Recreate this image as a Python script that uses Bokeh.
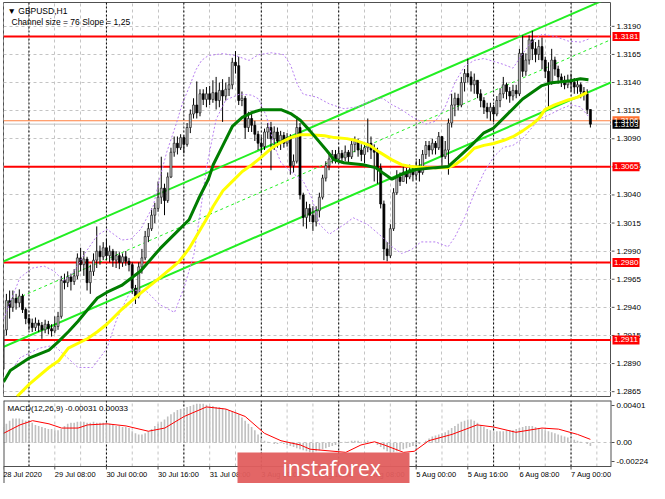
import datetime as dt
from bokeh.plotting import figure
from bokeh.layouts import column, row
from bokeh.models import Range1d, FixedTicker, Span, Label
from bokeh.embed import file_html
from bokeh.resources import INLINE
from bokeh.core.properties import value

# ---------------- data ----------------
symbol_text = "\u25bc GBPUSD,H1"
channel_text = "Channel size = 76 Slope = 1,25"
macd_text = "MACD(12,26,9) -0.00031 0.00033"
watermark = "instaforex"

sessions = [("2020-07-28", 16, 23), ("2020-07-29", 0, 23), ("2020-07-30", 0, 23),
            ("2020-07-31", 0, 23), ("2020-08-03", 0, 23), ("2020-08-04", 0, 23),
            ("2020-08-05", 0, 23), ("2020-08-06", 0, 23), ("2020-08-07", 0, 6)]

first_open = 1.2885
close = [1.2920, 1.2946, 1.2940, 1.2948, 1.2944, 1.2950, 1.2938, 1.2930, 1.2926, 1.2922,
         1.2926, 1.2924, 1.2920, 1.2925, 1.2921, 1.2919, 1.2923, 1.2932, 1.2964, 1.2962,
         1.2967, 1.2963, 1.2968, 1.2984, 1.2978, 1.2983, 1.2962, 1.2972, 1.2982, 1.2990,
         1.2985, 1.2993, 1.2986, 1.2990, 1.2982, 1.2986, 1.2980, 1.2985, 1.2981, 1.2978,
         1.2957, 1.2950, 1.2976, 1.2984, 1.3003, 1.3010, 1.3022, 1.3028, 1.3038, 1.3046,
         1.3035, 1.3056, 1.3078, 1.3086, 1.3082, 1.3091, 1.3085, 1.3100, 1.3112, 1.3120,
         1.3113, 1.3130, 1.3125, 1.3130, 1.3125, 1.3131, 1.3124, 1.3133, 1.3128, 1.3134,
         1.3138, 1.3158, 1.3155, 1.3124, 1.3126, 1.3100, 1.3108, 1.3102, 1.3094, 1.3086,
         1.3083, 1.3096, 1.3100, 1.3090, 1.3096, 1.3088, 1.3093, 1.3086, 1.3091, 1.3066,
         1.3070, 1.3100, 1.3040, 1.3020, 1.3028, 1.3022, 1.3016, 1.3026, 1.3038, 1.3055,
         1.3066, 1.3072, 1.3076, 1.3072, 1.3077, 1.3073, 1.3078, 1.3074, 1.3085, 1.3088,
         1.3080, 1.3076, 1.3082, 1.3086, 1.3080, 1.3078, 1.3064, 1.3032, 1.2992, 1.2986,
         1.3010, 1.3042, 1.3056, 1.3052, 1.3060, 1.3056, 1.3062, 1.3058, 1.3064, 1.3060,
         1.3076, 1.3084, 1.3080, 1.3086, 1.3082, 1.3092, 1.3074, 1.3080, 1.3104, 1.3120,
         1.3126, 1.3120, 1.3140, 1.3148, 1.3145, 1.3138, 1.3142, 1.3130, 1.3124, 1.3118,
         1.3114, 1.3118, 1.3112, 1.3124, 1.3130, 1.3138, 1.3132, 1.3128, 1.3133, 1.3130,
         1.3166, 1.3150, 1.3160, 1.3178, 1.3170, 1.3165, 1.3172, 1.3160, 1.3150, 1.3140,
         1.3160, 1.3152, 1.3145, 1.3142, 1.3138, 1.3142, 1.3140, 1.3136, 1.3138, 1.3132,
         1.3130, 1.3116, 1.3103]
high = [1.2925, 1.2952, 1.2955, 1.2955, 1.2952, 1.2956, 1.2952, 1.2940, 1.2934, 1.2930,
        1.2931, 1.2929, 1.2927, 1.2929, 1.2928, 1.2925, 1.2932, 1.2936, 1.2968, 1.2970,
        1.2972, 1.2970, 1.2974, 1.2988, 1.2993, 1.2990, 1.2985, 1.2978, 1.2988, 1.3012,
        1.2995, 1.2998, 1.3001, 1.2995, 1.2992, 1.2990, 1.2989, 1.2988, 1.2990, 1.2984,
        1.2980, 1.2960, 1.2980, 1.2992, 1.3008, 1.3015, 1.3028, 1.3033, 1.3052, 1.3074,
        1.3050, 1.3060, 1.3082, 1.3092, 1.3092, 1.3094, 1.3093, 1.3104, 1.3116, 1.3126,
        1.3141, 1.3134, 1.3134, 1.3136, 1.3137, 1.3142, 1.3145, 1.3140, 1.3143, 1.3140,
        1.3145, 1.3162, 1.3168, 1.3163, 1.3132, 1.3128, 1.3114, 1.3112, 1.3106, 1.3097,
        1.3092, 1.3099, 1.3104, 1.3105, 1.3101, 1.3100, 1.3097, 1.3096, 1.3095, 1.3094,
        1.3076, 1.3110, 1.3104, 1.3042, 1.3034, 1.3032, 1.3030, 1.3030, 1.3042, 1.3058,
        1.3070, 1.3077, 1.3080, 1.3080, 1.3082, 1.3080, 1.3084, 1.3080, 1.3090, 1.3092,
        1.3090, 1.3085, 1.3086, 1.3108, 1.3092, 1.3085, 1.3082, 1.3068, 1.3035, 1.2998,
        1.3014, 1.3046, 1.3062, 1.3060, 1.3066, 1.3064, 1.3067, 1.3066, 1.3070, 1.3072,
        1.3080, 1.3088, 1.3088, 1.3090, 1.3088, 1.3096, 1.3092, 1.3088, 1.3108, 1.3130,
        1.3131, 1.3130, 1.3145, 1.3152, 1.3161, 1.3150, 1.3148, 1.3142, 1.3134, 1.3127,
        1.3122, 1.3122, 1.3120, 1.3128, 1.3135, 1.3145, 1.3140, 1.3136, 1.3138, 1.3138,
        1.3170, 1.3182, 1.3166, 1.3182, 1.3186, 1.3176, 1.3178, 1.3180, 1.3163, 1.3158,
        1.3170, 1.3163, 1.3155, 1.3148, 1.3146, 1.3147, 1.3148, 1.3144, 1.3142, 1.3140,
        1.3136, 1.3134, 1.3115]
low = [1.2878, 1.2915, 1.2930, 1.2936, 1.2938, 1.2940, 1.2935, 1.2925, 1.2920, 1.2918,
       1.2919, 1.2918, 1.2912, 1.2917, 1.2916, 1.2914, 1.2917, 1.2920, 1.2930, 1.2956,
       1.2958, 1.2955, 1.2960, 1.2965, 1.2972, 1.2968, 1.2955, 1.2952, 1.2968, 1.2975,
       1.2978, 1.2982, 1.2982, 1.2980, 1.2976, 1.2975, 1.2974, 1.2976, 1.2977, 1.2972,
       1.2952, 1.2943, 1.2948, 1.2970, 1.2982, 1.2998, 1.3008, 1.3015, 1.3025, 1.3032,
       1.3022, 1.3033, 1.3055, 1.3074, 1.3076, 1.3080, 1.3077, 1.3083, 1.3095, 1.3108,
       1.3108, 1.3110, 1.3120, 1.3118, 1.3120, 1.3122, 1.3116, 1.3118, 1.3105, 1.3124,
       1.3128, 1.3134, 1.3148, 1.3120, 1.3119, 1.3090, 1.3096, 1.3096, 1.3088, 1.3080,
       1.3077, 1.3080, 1.3090, 1.3062, 1.3080, 1.3082, 1.3080, 1.3082, 1.3083, 1.3058,
       1.3060, 1.3068, 1.3036, 1.3012, 1.3010, 1.3016, 1.3008, 1.3012, 1.3020, 1.3036,
       1.3052, 1.3062, 1.3068, 1.3068, 1.3070, 1.3068, 1.3070, 1.3068, 1.3072, 1.3078,
       1.3074, 1.3070, 1.3068, 1.3078, 1.3072, 1.3052, 1.3050, 1.3028, 1.2982, 1.2981,
       1.2984, 1.3008, 1.3040, 1.3048, 1.3052, 1.3050, 1.3054, 1.3052, 1.3054, 1.3052,
       1.3058, 1.3072, 1.3074, 1.3076, 1.3076, 1.3080, 1.3066, 1.3072, 1.3058, 1.3100,
       1.3110, 1.3115, 1.3118, 1.3132, 1.3140, 1.3132, 1.3130, 1.3126, 1.3118, 1.3112,
       1.3108, 1.3106, 1.3105, 1.3110, 1.3118, 1.3126, 1.3125, 1.3122, 1.3124, 1.3126,
       1.3128, 1.3145, 1.3146, 1.3156, 1.3160, 1.3158, 1.3160, 1.3152, 1.3144, 1.3118,
       1.3138, 1.3146, 1.3139, 1.3136, 1.3134, 1.3135, 1.3132, 1.3130, 1.3130, 1.3126,
       1.3124, 1.3112, 1.3100]

# moving averages: (bar index, price)
ma_green_idx = [0.1, 2.2, 8.2, 14.2, 17.2, 20.2, 23.2, 26.2, 29.2, 32.2, 36.7, 42.6, 48.6, 54.6,
                57.6, 60.6, 63.6, 65.1, 68.1, 71.1, 74.1, 77.1, 80.1, 86.1, 89.1, 92.1, 95.1,
                100.2, 102.6, 105.6, 111.5, 115.4, 117.5, 120.5, 123.5, 128.0, 134.0, 137.9,
                140.9, 145.1, 149.0, 152.0, 155.0, 158.0, 161.0, 164.0, 167.0, 170.0, 173.0,
                176.0, 178.9, 181.4]
ma_green = [1.28736, 1.28839, 1.28951, 1.29020, 1.29097, 1.29183, 1.29277, 1.29381, 1.29484,
            1.29535, 1.29595, 1.29724, 1.29922, 1.30094, 1.30179, 1.30368, 1.30540, 1.30669,
            1.30841, 1.31013, 1.31090, 1.31133, 1.31159, 1.31159, 1.31124, 1.31064, 1.30970,
            1.30798, 1.30712, 1.30686, 1.30669, 1.30643, 1.30600, 1.30540, 1.30583, 1.30626,
            1.30643, 1.30652, 1.30729, 1.30841, 1.30953, 1.30995, 1.31081, 1.31167, 1.31253,
            1.31313, 1.31373, 1.31399, 1.31408, 1.31416, 1.31434, 1.31425]
ma_yellow_idx = [4.3, 8.2, 14.2, 17.2, 20.2, 26.2, 29.2, 32.2, 36.7, 42.6, 48.6, 54.6, 57.6,
                 60.6, 62.7, 65.1, 68.1, 71.1, 74.1, 77.1, 80.1, 83.1, 86.1, 89.1, 92.1, 95.1,
                 99.6, 102.6, 106.5, 109.4, 113.6, 116.6, 120.5, 123.5, 126.5, 131.0, 137.9,
                 140.0, 143.0, 146.0, 149.0, 152.0, 155.0, 158.0, 161.0, 164.0, 166.1, 167.9,
                 170.9, 175.1, 178.1, 181.0]
ma_yellow = [1.28607, 1.28719, 1.28865, 1.28925, 1.29037, 1.29123, 1.29183, 1.29252, 1.29381,
             1.29527, 1.29664, 1.29810, 1.29922, 1.30068, 1.30171, 1.30300, 1.30437, 1.30523,
             1.30609, 1.30669, 1.30738, 1.30815, 1.30867, 1.30910, 1.30935, 1.30935, 1.30927,
             1.30910, 1.30901, 1.30884, 1.30841, 1.30781, 1.30712, 1.30669, 1.30652, 1.30643,
             1.30643, 1.30669, 1.30729, 1.30815, 1.30841, 1.30858, 1.30884, 1.30918, 1.30970,
             1.31030, 1.31081, 1.31159, 1.31202, 1.31245, 1.31270, 1.31313]

band_up_idx = [0.1, 5.2, 9.1, 12.7, 15.7, 18.7, 21.7, 25.3, 29.2, 32.2, 36.7, 39.6, 42.6, 46.5,
               48.6, 50.7, 53.7, 55.5, 57.6, 59.7, 61.5, 63.6, 68.1, 72.0, 76.2, 79.2, 83.1,
               87.0, 89.1, 91.2, 93.0, 97.2, 101.1, 105.6, 110.0, 114.5, 117.5, 120.5, 123.5,
               126.5, 131.0, 134.0, 137.0, 140.0, 143.0, 146.0, 149.0, 152.0, 155.0, 158.0,
               161.0, 164.0, 167.0, 170.9, 175.1, 178.9, 181.4]
band_up = [1.29295, 1.29664, 1.29750, 1.29767, 1.29724, 1.29638, 1.29707, 1.29879, 1.30042,
           1.30094, 1.29999, 1.30008, 1.30094, 1.30300, 1.30557, 1.30781, 1.31038, 1.31210,
           1.31356, 1.31511, 1.31597, 1.31640, 1.31657, 1.31640, 1.31597, 1.31648, 1.31665,
           1.31648, 1.31554, 1.31382, 1.31296, 1.31270, 1.31210, 1.31167, 1.31184, 1.31245,
           1.31262, 1.31202, 1.31159, 1.31099, 1.31030, 1.31056, 1.31184, 1.31399, 1.31545,
           1.31597, 1.31614, 1.31588, 1.31562, 1.31528, 1.31657, 1.31769, 1.31829, 1.31812,
           1.31769, 1.31760, 1.31786]
band_lo_idx = [0.1, 5.2, 11.2, 15.7, 19.3, 23.2, 27.7, 32.2, 35.2, 39.6, 44.1, 48.6, 53.1,
               56.1, 59.1, 61.2, 63.0, 66.0, 69.0, 73.2, 77.1, 79.2, 81.6, 84.0, 86.1, 89.1,
               93.0, 95.7, 98.1, 101.1, 105.6, 108.5, 113.0, 117.5, 120.5, 123.5, 126.5,
               129.5, 134.0, 137.9, 140.0, 143.0, 146.0, 149.0, 152.0, 155.0, 158.0, 161.0,
               166.1, 170.0, 173.0, 176.0, 178.9, 181.4]
band_lo = [1.28736, 1.28951, 1.29037, 1.29063, 1.28968, 1.28865, 1.28865, 1.29037, 1.29295,
           1.29552, 1.29552, 1.29423, 1.29355, 1.29578, 1.29870, 1.30265, 1.30643, 1.31073,
           1.31245, 1.31296, 1.31288, 1.31253, 1.31099, 1.30841, 1.30686, 1.30609, 1.30523,
           1.30368, 1.30136, 1.30051, 1.30136, 1.30197, 1.30136, 1.30025, 1.29939, 1.29879,
           1.29913, 1.29982, 1.29982, 1.29939, 1.30025, 1.30197, 1.30411, 1.30600, 1.30738,
           1.30823, 1.30841, 1.30901, 1.31073, 1.31124, 1.31167, 1.31201, 1.31184, 1.31099]

# channel: lower line at first bar, width (76 pips) and slope (1.25 pips per bar)
channel_lower_start = 1.29047
channel_size = 0.0076
channel_slope = 0.000125

levels = [1.3181, 1.3065, 1.2980, 1.2911]
ask_level = 1.3106
bid_level = 1.3103

price_ticks = [1.2865, 1.2890, 1.2915, 1.2940, 1.2965, 1.2990, 1.3015, 1.3040, 1.3065,
               1.3090, 1.3115, 1.3140, 1.3165, 1.3190]

# MACD histogram (units of 0.0001) and signal line
macd_hist = [15, 18, 21, 23, 23, 23, 22, 21, 20, 19, 17, 16, 15, 14, 13, 13, 12, 12, 13,
             16, 18, 19, 19, 20, 20, 20, 19, 19, 20, 19, 19, 19, 18, 18, 17, 16, 16, 15, 15,
             14, 11, 9, 8, 8, 9, 11, 13, 16, 18, 20, 22, 25, 27, 29, 31, 32, 33, 34, 35, 36,
             37, 37, 37, 36, 35, 35, 34, 34, 33, 32, 31, 30, 29, 27, 24, 21, 18, 15, 12, 8, 4,
             2, 1, 0, -1, -1, 0, -1, -2, -3, -4, -5, -6, -7, -8, -9, -9, -8, -7, -6, -5, -4,
             -3, -2, -1, 0, 1, 1, 2, 2, 2, 1, 1, 2, 1, 0, -2, -4, -6, -8, -9, -9, -8, -7, -6,
             -5, -4, -3, -2, -1, 0, 2, 4, 6, 7, 8, 9, 10, 12, 14, 16, 18, 20, 21, 22, 22, 21,
             19, 17, 15, 13, 12, 11, 11, 11, 11, 12, 12, 12, 13, 14, 15, 16, 16, 16, 15, 14,
             13, 12, 11, 10, 9, 8, 7, 6, 5, 4, 3, 2, 1, 0, -1, -3]
macd_sig_idx = [0.1, 5.2, 9.1, 14.2, 18.1, 23.2, 26.2, 32.2, 38.1, 45.0, 50.1, 56.1, 63.0,
                69.0, 75.0, 81.0, 86.1, 92.1, 95.1, 106.2, 110.9, 115.1, 118.1, 124.1, 127.4,
                131.9, 139.1, 146.9, 152.0, 158.9, 167.0, 172.1, 178.0, 182.0]
macd_sig = [9, 17, 21, 18, 14, 14, 17, 18, 16, 11, 14, 25, 34, 32, 25, 9, 2, -2, -6, -9, -2,
            1, -2, -9, -8, 2, 8, 17, 15, 10, 14, 13, 8, 3.3]
macd_min, macd_max = -0.00224, 0.00401
macd_tick_labels = ["-0.00224", "0.00", "0.00401"]

# ---------------- derived ----------------
times = []
for d, h0, h1 in sessions:
    base = dt.datetime.strptime(d, "%Y-%m-%d")
    for h in range(h0, h1 + 1):
        times.append(base + dt.timedelta(hours=h))
N = len(times)
idx = list(range(N))
opn = [first_open] + close[:-1]
high = [max(h, o, c) for h, o, c in zip(high, opn, close)]
low = [min(l, o, c) for l, o, c in zip(low, opn, close)]
up = [c >= o for o, c in zip(opn, close)]

label_idx = list(range(0, N, 16))
label_txt = []
for i in label_idx:
    t = times[i]
    if i == 0:
        label_txt.append(f"{t.day} {t.strftime('%b')} {t.year}")
    else:
        label_txt.append(f"{t.day} {t.strftime('%b')} {t.strftime('%H:%M')}")
grid_idx = list(range(0, N + 8, 8))
day_idx = [i for i, t in enumerate(times) if t.hour == 0]

FONT = "Liberation Sans"
FW, FH = 608, 394          # main frame
QW = 37                    # price-scale column
MHP, LAB = 66, 17          # macd panel height, time-label strip
X0, X1 = 0.1, 188.54
Y0, Y1 = 1.28607, 1.32112
GRID = "#c4c4c4"
BORDER = "#505050"

# ---------------- main panel ----------------
p = figure(frame_width=FW, frame_height=FH, x_range=Range1d(X0, X1), y_range=Range1d(Y0, Y1),
           output_backend="svg", toolbar_location=None, x_axis_location=None,
           y_axis_location=None, min_border_left=3, min_border_top=2,
           min_border_bottom=1, min_border_right=0)
p.outline_line_color = BORDER
p.background_fill_color = "white"
p.border_fill_color = "white"
p.ygrid.ticker = FixedTicker(ticks=price_ticks)
p.xgrid.ticker = FixedTicker(ticks=grid_idx)
for g in (p.xgrid, p.ygrid):
    g.grid_line_color = GRID
    g.grid_line_dash = "3 3"
    g.grid_line_width = 1

for d in day_idx:
    p.add_layout(Span(location=d, dimension="height", line_color="black",
                      line_dash="2 2", line_width=1, level="underlay"))
p.add_layout(Span(location=ask_level, dimension="width", line_color="#ff8040",
                  line_width=1, level="underlay"))
p.add_layout(Span(location=bid_level, dimension="width", line_color="#c0c0c0",
                  line_width=1, level="underlay"))
for lv in levels:
    p.add_layout(Span(location=lv, dimension="width", line_color="#ff0000",
                      line_width=2, level="underlay"))

# channel
cx = [X0 - 1, X1 + 1]
lower = [channel_lower_start + channel_slope * x for x in cx]
upper = [v + channel_size for v in lower]
middle = [v + channel_size / 2 for v in lower]
p.line(cx, lower, line_color="#22ee22", line_width=2)
p.line(cx, upper, line_color="#22ee22", line_width=2)
p.line(cx, middle, line_color="#22ee22", line_width=1, line_dash="3 3")

# candles
p.segment(x0=idx, y0=low, x1=idx, y1=high, line_color="black", line_width=1)
bu = [i for i in idx if up[i]]
bd = [i for i in idx if not up[i]]
p.vbar(x=bu, bottom=[opn[i] for i in bu], top=[close[i] for i in bu], width=0.62,
       fill_color="#c4c4c4", line_color="#202020", line_width=0.7)
p.vbar(x=bd, bottom=[close[i] for i in bd], top=[opn[i] for i in bd], width=0.62,
       fill_color="black", line_color="black", line_width=0.7)

# bands and moving averages
p.line(band_up_idx, band_up, line_color="#b77ff0", line_width=1, line_dash="2 2")
p.line(band_lo_idx, band_lo, line_color="#b77ff0", line_width=1, line_dash="2 2")
p.line(ma_yellow_idx, ma_yellow, line_color="#ffff00", line_width=3)
p.line(ma_green_idx, ma_green, line_color="#007d00", line_width=3)

p.add_layout(Label(x=4, y=FH - 3, x_units="screen", y_units="screen", text=symbol_text,
                   text_font=FONT, text_font_size="8.5px", text_baseline="top",
                   text_color="black"))
p.add_layout(Label(x=8, y=FH - 14, x_units="screen", y_units="screen", text=channel_text,
                   text_font=FONT, text_font_size="8.5px", text_baseline="top",
                   text_color="black"))

# ---------------- price scale column ----------------
q = figure(frame_width=QW, frame_height=FH, x_range=Range1d(0, QW), y_range=p.y_range,
           output_backend="svg", toolbar_location=None, x_axis_location=None,
           y_axis_location=None, min_border_left=0, min_border_right=0, min_border_top=2,
           min_border_bottom=1)
q.outline_line_color = None
q.xgrid.visible = False
q.ygrid.visible = False
nt = len(price_ticks)
q.segment(x0=[0] * nt, y0=price_ticks, x1=[3] * nt, y1=price_ticks, line_color=BORDER,
          line_width=1)
q.text(x=[5] * nt, y=price_ticks, text=[f"{t:.4f}" for t in price_ticks],
       text_font=value(FONT), text_font_size="8px", text_baseline="middle",
       text_align="left", text_color="black")
box_vals = levels + [ask_level, bid_level]
box_cols = ["#ff0000"] * len(levels) + ["#ff7030", "#000000"]
q.rect(x=[14.5] * len(box_vals), y=box_vals, width=27, height=9, height_units="screen",
       fill_color=box_cols, line_color=None)
q.text(x=[2.5] * len(box_vals), y=box_vals, text=[f"{v:.4f}" for v in box_vals],
       text_font=value(FONT), text_font_size="8px", text_baseline="middle",
       text_align="left", text_color="white")

# ---------------- MACD panel ----------------
unit = (macd_max - macd_min) / MHP
m = figure(frame_width=FW, frame_height=MHP + LAB, x_range=p.x_range,
           y_range=Range1d(macd_min - LAB * unit, macd_max), output_backend="svg",
           toolbar_location=None, x_axis_location=None, y_axis_location="right",
           min_border_left=3, min_border_top=3, min_border_bottom=0, min_border_right=0)
m.outline_line_color = None
m.background_fill_color = "white"
m.border_fill_color = "white"
macd_ticks = [macd_min + 5 * unit, 0.0, macd_max - 5 * unit]
my = m.yaxis[0]
my.ticker = FixedTicker(ticks=macd_ticks)
my.major_label_overrides = dict(zip(macd_ticks, macd_tick_labels))
my.major_label_text_font = FONT
my.major_label_text_font_size = "8px"
my.major_label_text_color = "black"
my.major_tick_out = 3
my.major_tick_in = 0
my.minor_tick_out = 0
my.minor_tick_in = 0
my.major_label_standoff = 2
my.axis_line_color = None
my.major_tick_line_color = BORDER
m.xgrid.visible = False
m.ygrid.ticker = FixedTicker(ticks=[0.0])
m.ygrid.grid_line_color = GRID
m.ygrid.grid_line_dash = "3 3"

gi = [g for g in grid_idx if X0 <= g <= X1]
m.segment(x0=gi, y0=[macd_min] * len(gi), x1=gi, y1=[macd_max] * len(gi),
          line_color=GRID, line_dash="3 3", line_width=1)
m.segment(x0=day_idx, y0=[macd_min] * len(day_idx), x1=day_idx,
          y1=[macd_max] * len(day_idx), line_color="black", line_dash="2 2", line_width=1)

m.vbar(x=idx, top=[v * 1e-4 for v in macd_hist], bottom=0, width=0.5,
       fill_color="#c0c0c0", line_color=None)
m.line(macd_sig_idx, [v * 1e-4 for v in macd_sig], line_color="#ff0000", line_width=1)

# panel border
m.segment(x0=[X0, X1, X0, X0], y0=[macd_min - LAB * unit, macd_min, macd_max, macd_min],
          x1=[X0, X1, X1, X1], y1=[macd_max, macd_max, macd_max, macd_min],
          line_color=BORDER, line_width=[2, 2, 2, 1])

# time scale
m.segment(x0=label_idx, y0=[macd_min] * len(label_idx), x1=label_idx,
          y1=[macd_min - 3 * unit] * len(label_idx), line_color=BORDER, line_width=1)
m.text(x=label_idx, y=[macd_min - 3.5 * unit] * len(label_idx), text=label_txt,
       text_font=value(FONT), text_font_size="7.5px", text_baseline="top",
       text_align="left", text_color="black")

m.add_layout(Label(x=4, y=MHP + LAB - 3, x_units="screen", y_units="screen", text=macd_text,
                   text_font=FONT, text_font_size="8px", text_baseline="top",
                   text_color="black"))

# watermark
ppb = FW / (X1 - X0)
wm_left, wm_right, wm_text_x = X0 + 234 / ppb, X0 + 406 / ppb, X0 + 279 / ppb
base_y = macd_min - LAB * unit
wm_top = base_y + 31 * unit
m.quad(left=[wm_left], right=[wm_right], bottom=[base_y - 5 * unit], top=[wm_top],
       fill_color="#e15e5e", fill_alpha=0.95, line_color=None)
m.text(x=[wm_text_x], y=[base_y + 16 * unit], text=[watermark], text_font=value("Open Sans"),
       text_font_size="21px", text_baseline="middle", text_align="left", text_color="white")

layout = column(row(p, q, spacing=0), m, spacing=0)
open("out.html", "w").write(file_html(layout, INLINE))
